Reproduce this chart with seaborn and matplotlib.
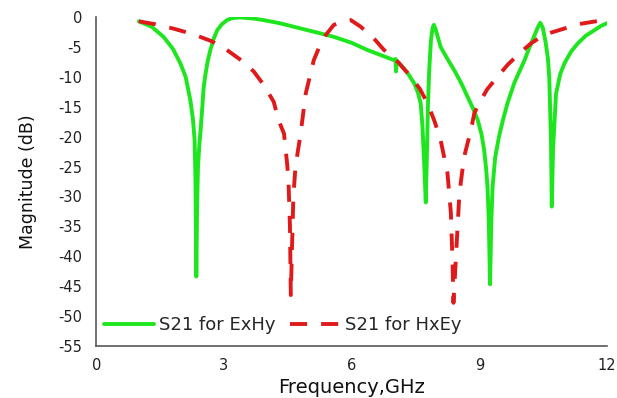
import matplotlib
matplotlib.use("Agg")
import matplotlib.pyplot as plt
import seaborn as sns

# Transmission magnitude (dB) versus frequency (GHz)
exhy_freq = [1.0, 1.3, 1.58, 1.8, 1.98, 2.1, 2.21, 2.27, 2.31, 2.33, 2.35, 2.37, 2.39,
             2.42, 2.45, 2.49, 2.52, 2.56, 2.62, 2.68, 2.76, 2.84, 2.95, 3.07, 3.2, 3.39,
             3.7, 3.93, 4.33, 4.8, 5.2, 5.58, 6.0, 6.37, 6.7, 6.92, 7.0, 7.03, 7.04, 7.06,
             7.15, 7.3, 7.47, 7.55, 7.62, 7.66, 7.7, 7.74, 7.77, 7.79, 7.82, 7.86, 7.9,
             7.93, 7.97, 8.09, 8.25, 8.41, 8.57, 8.72, 8.85, 8.96, 9.05, 9.11, 9.16, 9.19,
             9.22, 9.25, 9.28, 9.31, 9.37, 9.46, 9.55, 9.66, 9.82, 10.06, 10.18, 10.28,
             10.36, 10.43, 10.49, 10.56, 10.61, 10.64, 10.68, 10.70, 10.73, 10.8, 10.9,
             11.0, 11.15, 11.31, 11.5, 11.7, 11.85, 12.0]
exhy_db = [-0.7, -1.6, -3.3, -5.3, -7.8, -10.0, -13.9, -17.0, -20.5, -27.0, -43.4, -31.0, -25.0,
           -21.5, -19.0, -15.2, -12.0, -9.8, -7.3, -5.5, -3.6, -2.2, -1.2, -0.5, -0.15, -0.05,
           -0.25, -0.5, -1.05, -1.9, -2.6, -3.3, -4.3, -5.5, -6.4, -7.0, -7.2, -7.0, -9.1, -7.3,
           -8.0, -9.2, -11.1, -12.5, -14.4, -18.0, -24.0, -31.0, -22.0, -15.0, -9.0, -4.0, -1.8,
           -1.3, -2.0, -5.0, -7.0, -8.9, -11.0, -13.3, -15.3, -17.2, -19.6, -22.2, -25.5, -28.4,
           -34.0, -44.7, -34.0, -28.4, -23.5, -20.0, -17.3, -14.4, -11.0, -7.2, -5.0, -3.3,
           -1.9, -0.95, -1.8, -4.4, -7.0, -10.0, -20.0, -31.7, -22.0, -12.8, -9.5,
           -7.7, -5.8, -4.4, -3.1, -2.2, -1.5, -1.0]

hxey_freq = [1.0, 1.39, 1.8, 2.25, 2.7, 3.07, 3.4, 3.7, 3.95, 4.17, 4.28, 4.41, 4.49, 4.52,
             4.55, 4.57, 4.6, 4.63, 4.68, 4.8, 4.92, 5.11, 5.25, 5.39, 5.58, 5.8, 5.98, 6.21,
             6.5, 6.76, 7.1, 7.39, 7.6, 7.78, 7.95, 8.09, 8.25, 8.33, 8.37, 8.39, 8.42, 8.45,
             8.53, 8.64, 8.8, 8.88, 9.0, 9.19, 9.4, 9.66, 9.95, 10.21, 10.45, 10.68, 11.0,
             11.31, 11.65, 12.0]
hxey_db = [-0.7, -1.2, -1.9, -2.8, -4.0, -5.5, -7.2, -9.1, -11.5, -14.2, -17.2, -19.5, -25.0, -28.4,
           -35.0, -46.5, -38.0, -30.0, -25.0, -19.5, -12.8, -7.2, -4.8, -3.0, -1.3, -0.7, -0.5, -1.6,
           -3.4, -5.5, -7.6, -10.0, -12.0, -14.4, -17.5, -20.6, -26.1, -32.8, -41.2, -47.8, -44.0, -40.0,
           -29.5, -23.4, -18.9, -16.1, -14.3, -12.0, -10.2, -8.0, -6.0, -4.4, -3.3, -2.6, -1.9,
           -1.2, -0.8, -0.4]

series_labels = ["S21 for ExHy", "S21 for HxEy"]
x_ticks = [0, 3, 6, 9, 12]
y_ticks = list(range(-55, 1, 5))

sns.set_style("white")
plt.rcParams["font.family"] = ["DejaVu Sans"]
plt.rcParams["axes.unicode_minus"] = False

fig = plt.figure(figsize=(6.17, 3.98), dpi=100)
ax = fig.add_axes([0.156, 0.131, 0.828, 0.826])

sns.lineplot(x=exhy_freq, y=exhy_db, ax=ax, sort=False, estimator=None,
             color="#1ee61e", lw=2.8, label=series_labels[0])
sns.lineplot(x=hxey_freq, y=hxey_db, ax=ax, sort=False, estimator=None,
             color="#e01a1a", lw=2.8, linestyle=(0, (4.4, 3.6)), label=series_labels[1])

ax.set_xlim(0, 12)
ax.set_ylim(-55, 0)
ax.set_xticks(x_ticks)
ax.set_yticks(y_ticks)
ax.tick_params(axis="both", length=0, labelsize=10.5, colors="#222222")
ax.tick_params(axis="x", pad=8.5)
ax.tick_params(axis="y", pad=10)
for side in ("top", "right"):
    ax.spines[side].set_visible(False)
for side in ("left", "bottom"):
    ax.spines[side].set_color("#595959")
    ax.spines[side].set_linewidth(1.2)

ax.set_xlabel("Frequency,GHz", fontsize=14, color="#111111", labelpad=3.5)
ax.set_ylabel("Magnitude (dB)", fontsize=12.5, color="#111111", labelpad=15)

ax.legend(loc="lower left", bbox_to_anchor=(0.016, 0.035), ncol=2, frameon=False,
          fontsize=13, handlelength=2.77, handletextpad=0.28, columnspacing=0.78,
          borderpad=0, borderaxespad=0)

fig.savefig("out.png", dpi=100)
